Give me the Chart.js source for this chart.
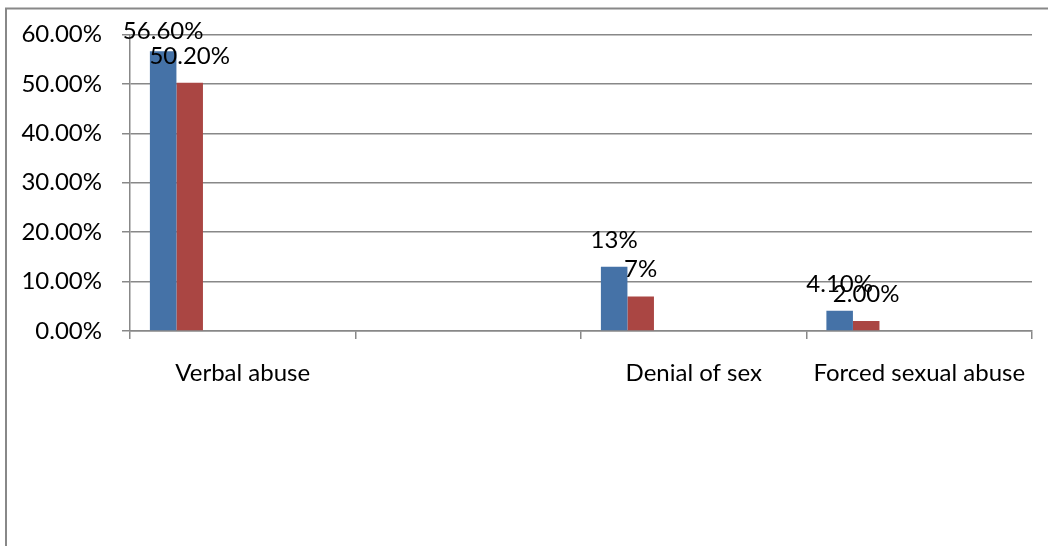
<!DOCTYPE html>
<html>
<head>
<meta charset="utf-8">
<script src="https://cdn.jsdelivr.net/npm/chart.js@4.4.1/dist/chart.umd.min.js"></script>
<style>
  html, body { margin: 0; padding: 0; background: #fff; }
  #wrap { width: 1048px; height: 546px; position: relative; }
</style>
</head>
<body>
<div id="wrap"><canvas id="abuseChart"></canvas></div>
<script>
// chart data
const categories = ['Verbal abuse', '', 'Denial of sex', 'Forced sexual abuse'];
const series1 = [0.566, null, 0.13, 0.041];
const series2 = [0.502, null, 0.07, 0.02];
const series1Labels = ['56.60%', '', '13%', '4.10%'];
const series2Labels = ['50.20%', '', '7%', '2.00%'];
const yTickLabels = ['0.00%', '10.00%', '20.00%', '30.00%', '40.00%', '50.00%', '60.00%'];
// the sheet had empty series columns too, they keep the bar slots
const emptySeries = [null, null, null, null];

const font = { family: 'Lato, "Open Sans", sans-serif', size: 24 };
const gridGray = '#888888';

// outer frame of the chart (only top and left edges show)
const framePlugin = {
    id: 'frame',
    beforeDraw(chart) {
        const ctx = chart.ctx;
        ctx.save();
        ctx.strokeStyle = gridGray;
        ctx.lineWidth = 2;
        ctx.beginPath();
        ctx.moveTo(6, 546);
        ctx.lineTo(6, 8.5);
        ctx.lineTo(1048, 8.5);
        ctx.stroke();
        ctx.restore();
    }
};

// value labels above the bars
const valueLabels = {
    id: 'valueLabels',
    afterDatasetsDraw(chart) {
        const ctx = chart.ctx;
        const texts = [series1Labels, series2Labels];
        ctx.save();
        ctx.font = font.size + 'px ' + font.family;
        ctx.fillStyle = '#000';
        ctx.textAlign = 'center';
        ctx.textBaseline = 'alphabetic';
        texts.forEach((labels, di) => {
            const meta = chart.getDatasetMeta(di);
            meta.data.forEach((bar, i) => {
                if (!labels[i]) return;
                const y = Math.max(bar.y - 19, 39);
                ctx.fillText(labels[i], bar.x, y);
            });
        });
        ctx.restore();
    }
};

const datasets = [
    { label: 'Series1', data: series1, backgroundColor: '#4572A7' },
    { label: 'Series2', data: series2, backgroundColor: '#AA4643' }
];
for (let k = 0; k < 5; k++) {
    datasets.push({ label: '', data: emptySeries, backgroundColor: '#fff' });
}

new Chart(document.getElementById('abuseChart'), {
    type: 'bar',
    data: { labels: categories, datasets: datasets },
    options: {
        responsive: true,
        maintainAspectRatio: false,
        animation: false,
        devicePixelRatio: 1,
        categoryPercentage: 7 / 8.5,
        barPercentage: 1,
        layout: { padding: { top: 30, right: 16, left: 0, bottom: 0 } },
        plugins: {
            legend: { display: false },
            tooltip: { enabled: false }
        },
        scales: {
            x: {
                offset: true,
                grid: {
                    offset: true,
                    drawOnChartArea: false,
                    drawTicks: true,
                    tickLength: 8,
                    color: gridGray,
                    lineWidth: 1.5
                },
                border: { display: true, color: gridGray, width: 1.5 },
                ticks: { font: font, color: '#000', padding: 20, maxRotation: 0, autoSkip: false },
                afterFit(scale) { scale.height = 215; }
            },
            y: {
                min: 0,
                max: 0.6,
                ticks: {
                    stepSize: 0.1,
                    font: font,
                    color: '#000',
                    padding: 20,
                    callback: (v, i) => yTickLabels[i]
                },
                grid: { color: gridGray, lineWidth: 1.5, tickLength: 8 },
                border: { display: true, color: gridGray, width: 1.5 },
                afterFit(scale) { scale.width = 130; }
            }
        }
    },
    plugins: [framePlugin, valueLabels]
});
</script>
</body>
</html>
